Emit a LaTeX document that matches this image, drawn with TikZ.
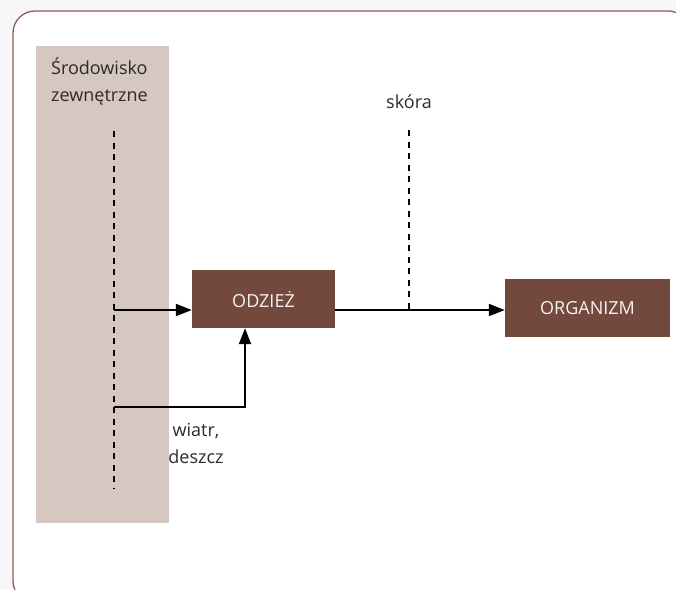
\documentclass[tikz,border=0pt]{standalone}
\usepackage{fontspec}
\setmainfont{Open Sans}
\usetikzlibrary{arrows.meta}
\definecolor{framec}{HTML}{8E6052}
\definecolor{beige}{HTML}{D6C7C0}
\definecolor{boxc}{HTML}{74493D}
\definecolor{txt}{HTML}{2B2B2B}
\definecolor{outbg}{HTML}{F7F7F7}
\tikzset{
  brownbox/.style={fill=boxc, text=white!93!boxc, minimum width=143pt, minimum height=58pt, inner sep=0pt, font=\fontsize{18}{21}\selectfont},
  lbl/.style={text=txt, font=\fontsize{18}{27}\selectfont, inner sep=0pt},
  sep/.style={draw=black, line width=1.1pt, dash pattern=on 6pt off 5.5pt},
  conn/.style={draw=black, line width=2pt, -{Triangle[length=16pt,width=12pt]}},
  plain/.style={draw=black, line width=2pt}
}
\begin{document}
\begin{tikzpicture}[x=1pt,y=-1pt]
\useasboundingbox (0,0) rectangle (676,589);
\clip (0,0) rectangle (676,589);
\fill[outbg] (0,0) rectangle (676,589);
\draw[framec, line width=1.3pt, fill=white, rounded corners=22pt] (13,11) rectangle (690,603);
% environment band
\fill[beige] (36,46) rectangle (169,523);
\node[lbl, anchor=north west, align=left] (env) at (51,58) {Środowisko\\zewnętrzne};
\coordinate (envtop) at (114,131);
\coordinate (envbot) at (114,488);
\coordinate (envA) at (114,310);
\coordinate (envB) at (114,407);
\draw[sep] (envtop) -- (envbot);
% boxes
\node[brownbox] (odziez) at (263.5,299) {ODZIEŻ};
\node[brownbox, minimum width=165pt] (organizm) at (587.5,308) {ORGANIZM};
% skin
\node[lbl] (skora) at (409,102) {skóra};
\coordinate (skintop) at (409,130);
\coordinate (skinbot) at (409,310);
\draw[sep] (skintop) -- (skinbot);
% arrows
\draw[conn] (envA) -- (envA -| odziez.west);
\draw[conn] (odziez.east |- skinbot) -- (organizm.west |- skinbot);
\coordinate (corner) at (245,407);
\draw[conn] (envB) -- (corner) -- (corner |- odziez.south);
\node[lbl, align=center] (wind) at (196,443) {wiatr,\\deszcz};
\end{tikzpicture}
\end{document}
